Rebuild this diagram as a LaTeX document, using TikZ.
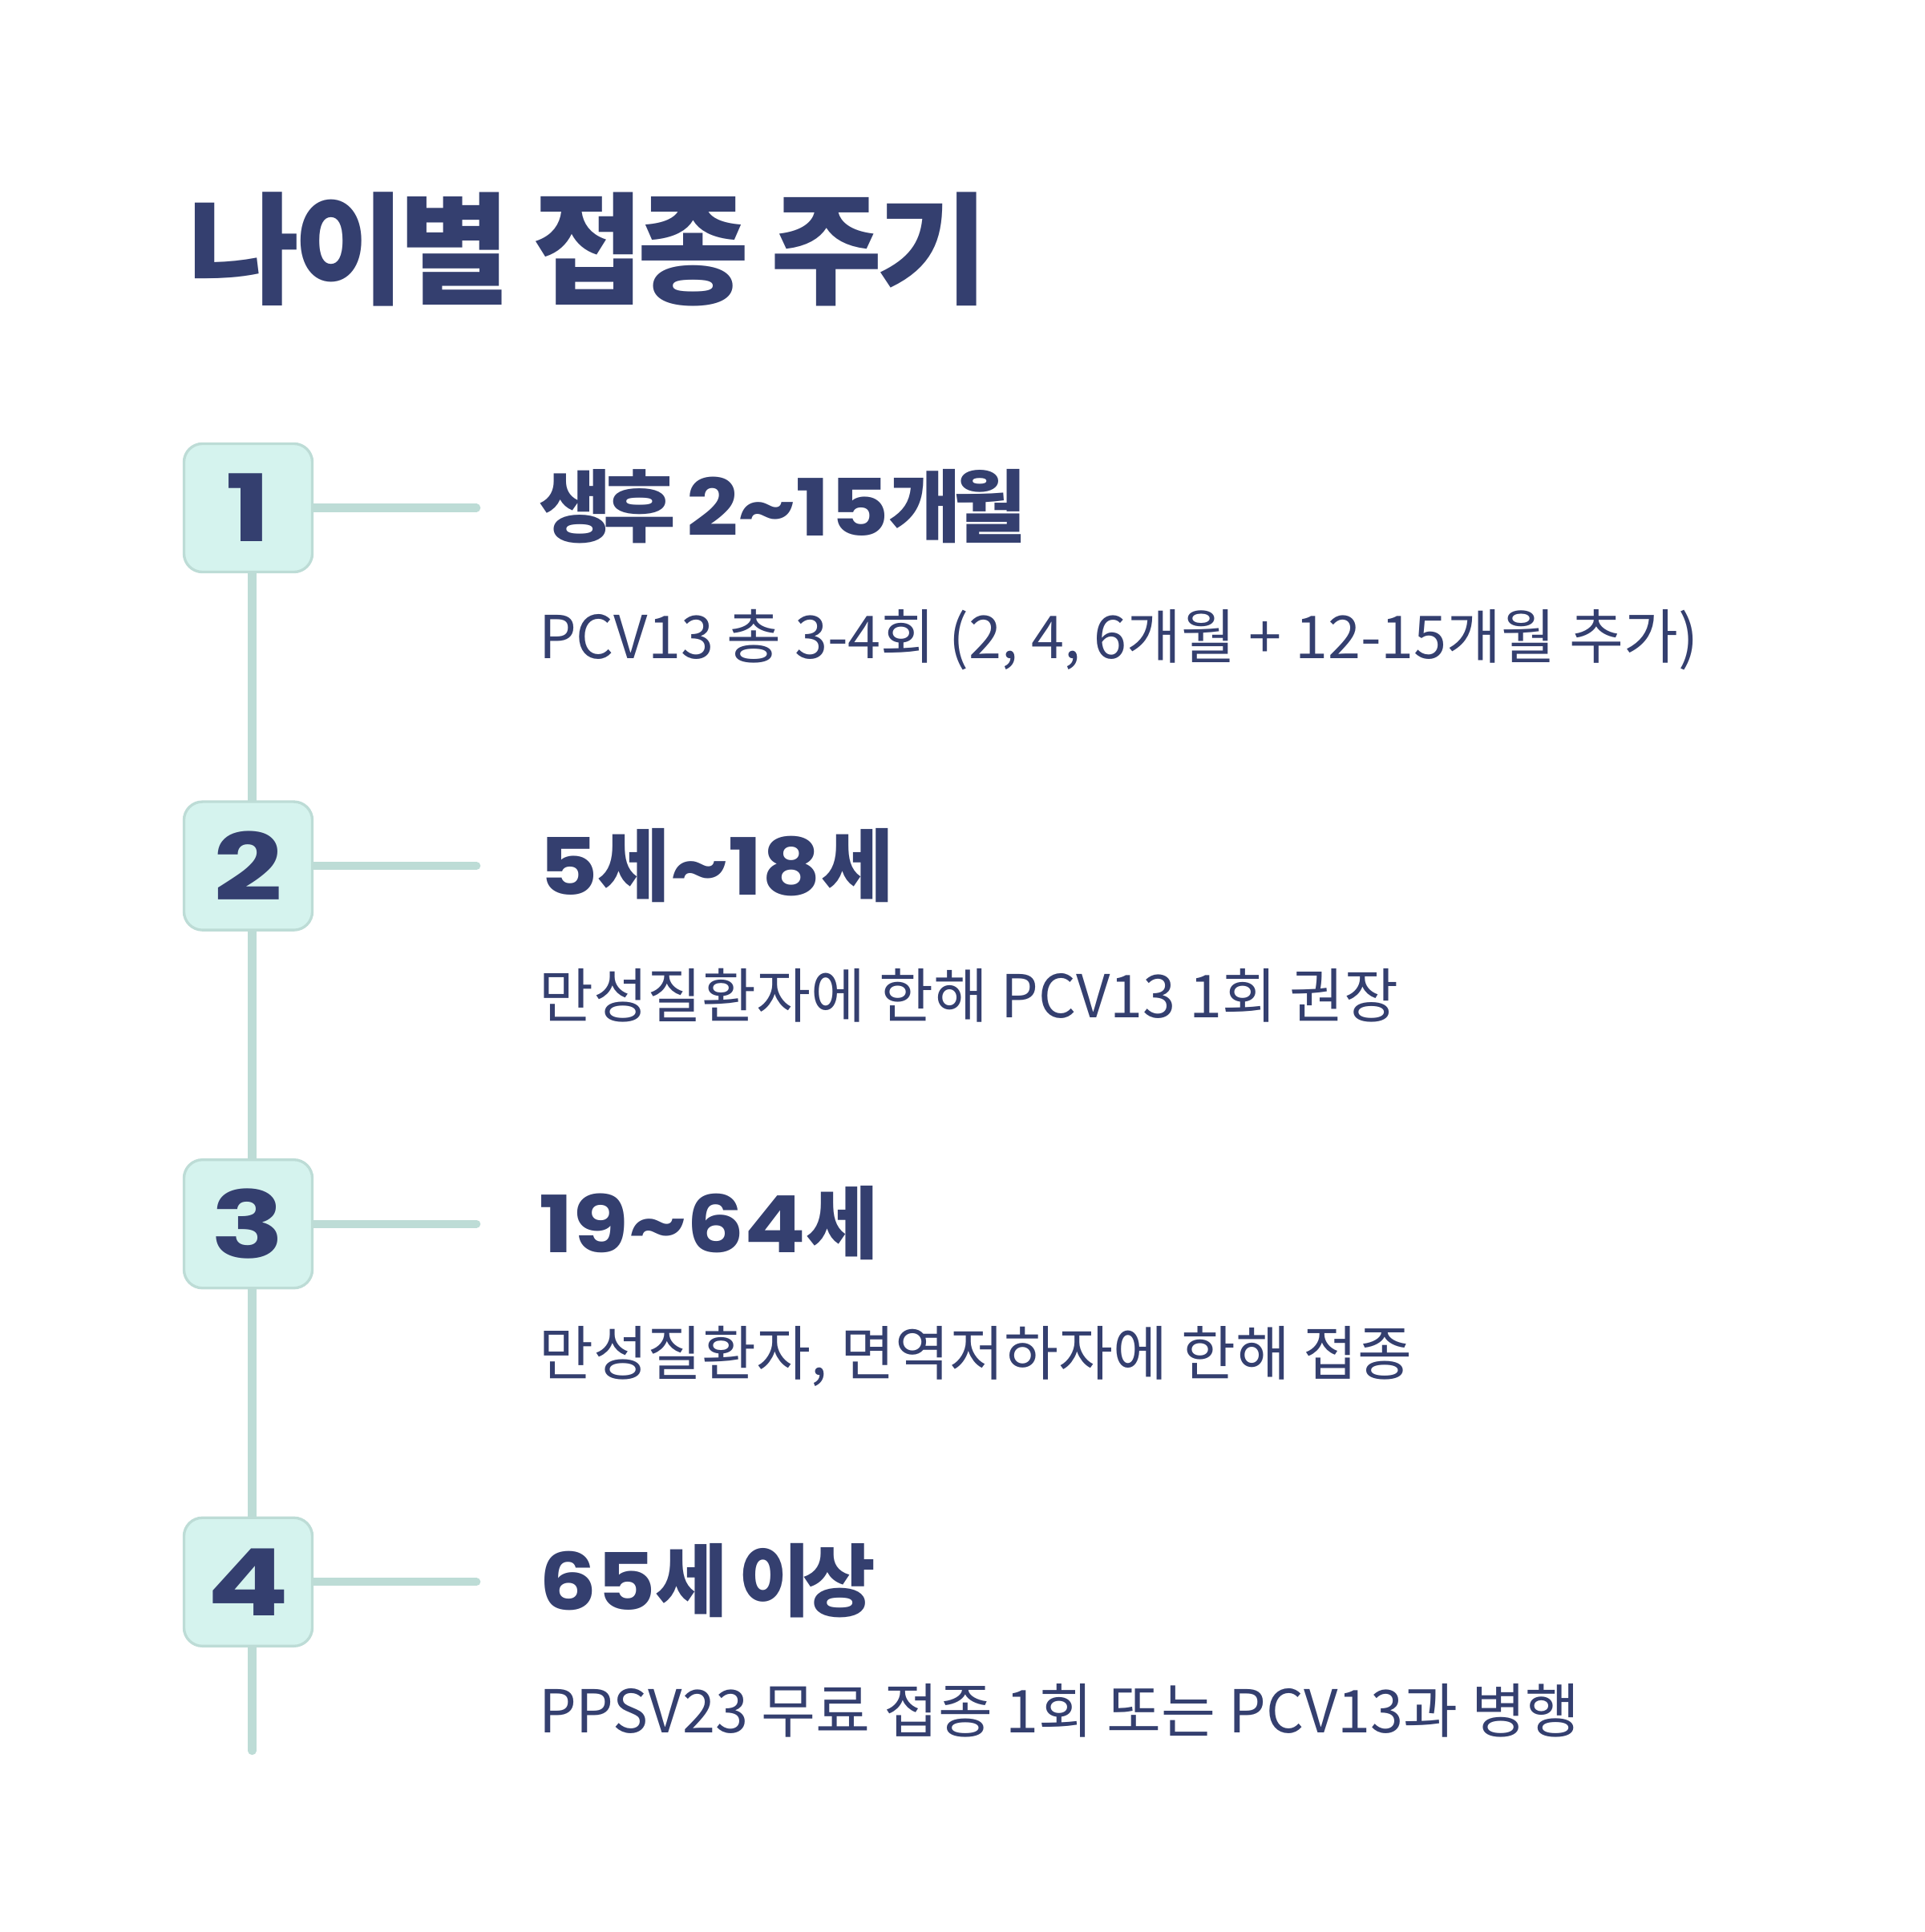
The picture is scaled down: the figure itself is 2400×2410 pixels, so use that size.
\documentclass[tikz,border=0pt]{standalone}
\usepackage{fontspec}
\setmainfont{Noto Sans CJK KR}
\newfontfamily\krbold{Noto Sans CJK KR}[LetterSpace=-10]
\newfontfamily\krtitle{Noto Sans CJK KR}[LetterSpace=-5]
\newfontfamily\numfont{Poppins}[FakeStretch=1.15]
\newfontfamily\boxfont{Poppins}[FakeStretch=1.3]
\usetikzlibrary{positioning, backgrounds}

\definecolor{navy}{HTML}{343F6F}
\definecolor{mintfill}{HTML}{D5F3EE}
\definecolor{mintline}{HTML}{BDDCD6}

% wide numerals inside the Korean headings
\newcommand{\digs}[1]{{\numfont\bfseries #1}}

\begin{document}
\begin{tikzpicture}[
  x=0.01cm, y=-0.01cm,
  numbox/.style={draw=mintline, fill=mintfill, line width=0.95pt,
                 rounded corners=0.23cm, minimum size=1.6cm, inner sep=0pt,
                 text=navy, font=\boxfont\bfseries\fontsize{33}{33}\selectfont},
  headtext/.style={inner sep=0pt, text=navy,
                   font=\krbold\bfseries\fontsize{28}{28}\selectfont},
  bodytext/.style={inner sep=0pt, text=navy,
                   font=\fontsize{21}{21}\selectfont},
  titletext/.style={inner sep=0pt, text=navy,
                    font=\krtitle\bfseries\fontsize{43}{43}\selectfont},
  stem/.style={draw=mintline, line width=2.85pt, line cap=round},
  node distance=2.83cm
]
\useasboundingbox (0,0) rectangle (2400,2410);

\node[titletext, anchor=base west] (title) at (234,368) {나이별 접종 주기};

% numbered steps
\node[numbox] at (309.5,633.5) (b1) {1};
\node[numbox, below=of b1] (b2) {2};
\node[numbox, below=of b2] (b3) {3};
\node[numbox, below=of b3] (b4) {4};

\node[headtext, base right=2.8cm of b1, yshift=0.07cm] (h1) {생후 \digs{2\textasciitilde15}개월};
\node[headtext, base right=2.8cm of b2, yshift=0.07cm] (h2) {\digs{5}세\digs{\textasciitilde18}세};
\node[headtext, base right=2.8cm of b3, yshift=0.07cm] (h3) {\digs{19\textasciitilde64}세};
\node[headtext, base right=2.8cm of b4, yshift=0.07cm] (h4) {\digs{65}세 이상};

\node[bodytext, anchor=base west] (d1) at ([yshift=-1.53cm]h1.base west)
  {PCV13 총 3-4회 (2, 4, 6개월 + 12-15개월 추가)};
\node[bodytext, anchor=base west] (d2) at ([yshift=-1.53cm]h2.base west)
  {만성질환자에 한해 PCV13 1회 권장};
\node[bodytext, anchor=base west] (d3) at ([yshift=-1.53cm]h3.base west)
  {만성질환자, 면역저하자에 한해 접종};
\node[bodytext, anchor=base west] (d4) at ([yshift=-1.53cm]h4.base west)
  {PPSV23 무료 접종 1회 또는 PCV13과 병행};

\coordinate (tail) at ([xshift=0.05cm, yshift=-1.29cm]b4.south);
\foreach \i in {1,...,4}
  \coordinate (t\i) at ([xshift=2.03cm]b\i.east);

\begin{scope}[on background layer]
  \draw[stem] ([xshift=0.05cm]b1.south) -- ([xshift=0.05cm]b2.north);
  \draw[stem] ([xshift=0.05cm]b2.south) -- ([xshift=0.05cm]b3.north);
  \draw[stem] ([xshift=0.05cm]b3.south) -- ([xshift=0.05cm]b4.north);
  \draw[stem] ([xshift=0.05cm]b4.south) -- (tail);
  \foreach \i in {1,...,4}
    \draw[stem] (b\i) -- (t\i);
\end{scope}
\end{tikzpicture}
\end{document}
